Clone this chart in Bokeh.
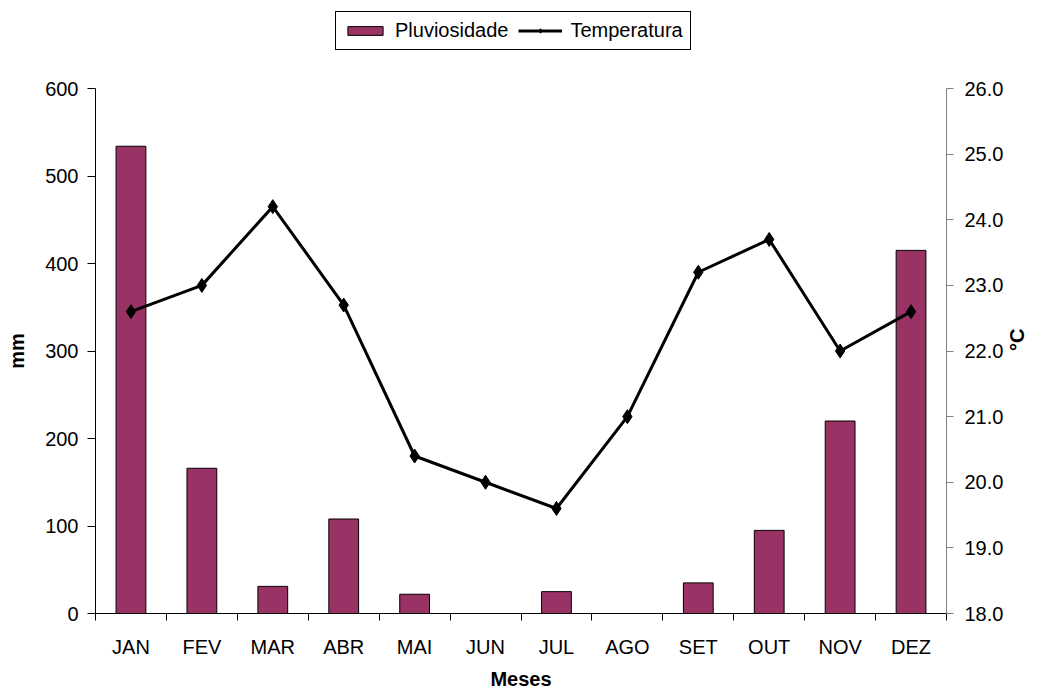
import math
import numpy as np
from bokeh.plotting import figure
from bokeh.layouts import column
from bokeh.models import (Range1d, LinearAxis, FixedTicker, CustomJSTickFormatter,
                          PrintfTickFormatter, Legend, LegendItem, ColumnDataSource)
from bokeh.embed import file_html
from bokeh.resources import INLINE

months = ["JAN", "FEV", "MAR", "ABR", "MAI", "JUN", "JUL", "AGO", "SET", "OUT", "NOV", "DEZ"]
rain_mm = [534, 166, 31, 108, 22, 0, 25, 0, 35, 95, 220, 415]
temp_c = [22.6, 23.0, 24.2, 22.7, 20.4, 20.0, 19.6, 21.0, 23.2, 23.7, 22.0, 22.6]
rain_ticks = [0, 100, 200, 300, 400, 500, 600]
temp_ticks = [18, 19, 20, 21, 22, 23, 24, 25, 26]
series_names = ["Pluviosidade", "Temperatura"]

FONT = "Liberation Sans"
BAR = "#993366"

centers = (np.arange(len(months)) + 0.5).tolist()
bounds = np.arange(len(months) + 1).tolist()

src = ColumnDataSource(dict(x=centers, rain=rain_mm, temp=temp_c, m=months))

# ---------------- legend strip ----------------
LEG_H = 70
lf = figure(width=1042, height=LEG_H, output_backend="svg", toolbar_location=None,
            x_axis_type=None, y_axis_type=None, x_range=Range1d(100, 101),
            y_range=Range1d(1000, 1001), min_border=0)
lf.outline_line_color = None
lf.grid.visible = False
lf.background_fill_color = "white"
lf.border_fill_color = "white"
lb = lf.vbar(x="x", top="rain", width=0.42, source=src, fill_color=BAR, line_color="black", line_width=1)
ll = lf.line(x="x", y="temp", source=src, line_color="black", line_width=3)
ls = lf.scatter(x="x", y="temp", source=src, marker="diamond", size=14,
                fill_color="black", line_color="black")
legend = Legend(items=[LegendItem(label=series_names[0], renderers=[lb]),
                       LegendItem(label=series_names[1], renderers=[ll, ls])],
                orientation="horizontal", location=(240, 20))
legend.border_line_color = "black"
legend.border_line_alpha = 1
legend.border_line_width = 1
legend.background_fill_color = "white"
legend.background_fill_alpha = 1
legend.label_text_font = FONT
legend.label_text_font_size = "20px"
legend.label_text_color = "black"
legend.glyph_width = 44
legend.glyph_height = 11
legend.label_standoff = 8
legend.spacing = 10
legend.padding = 7
legend.margin = 0
lf.add_layout(legend, "center")

# ---------------- main chart ----------------
p = figure(width=1042, height=692 - LEG_H, output_backend="svg", toolbar_location=None,
           x_range=Range1d(0, len(months)), y_range=Range1d(0, 600),
           min_border_left=95, min_border_right=96, min_border_top=88 - LEG_H, min_border_bottom=79)
p.extra_y_ranges = {"temp": Range1d(18, 26)}
p.outline_line_color = None
p.xgrid.visible = False
p.ygrid.visible = False
p.background_fill_color = "white"
p.border_fill_color = "white"

bars = p.vbar(x="x", top="rain", width=0.42, source=src, fill_color=BAR,
              line_color="black", line_width=1)
line = p.line(x="x", y="temp", source=src, y_range_name="temp", line_color="black", line_width=3)
pts = p.scatter(x="x", y="temp", source=src, y_range_name="temp", marker="diamond",
                size=14, fill_color="black", line_color="black")

# bottom axis
xa = p.xaxis[0]
xa.ticker = FixedTicker(ticks=centers, minor_ticks=bounds)
xa.formatter = CustomJSTickFormatter(args=dict(m=months), code="return m[Math.floor(tick)] || ''")
xa.major_tick_out = 0
xa.major_tick_in = 0
xa.minor_tick_out = 7
xa.minor_tick_in = 0
xa.minor_tick_line_color = "black"
xa.axis_line_color = "black"
xa.major_label_text_font = FONT
xa.major_label_text_font_size = "20px"
xa.major_label_text_color = "black"
xa.major_label_standoff = 15
xa.axis_label = "Meses"
xa.axis_label_text_font = FONT
xa.axis_label_text_font_size = "20px"
xa.axis_label_text_font_style = "bold"
xa.axis_label_text_color = "black"
xa.axis_label_standoff = 7

# left axis
ya = p.yaxis[0]
ya.ticker = FixedTicker(ticks=rain_ticks)
ya.major_tick_out = 8
ya.major_tick_in = 0
ya.minor_tick_out = 0
ya.minor_tick_in = 0
ya.axis_line_color = "black"
ya.major_tick_line_color = "black"
ya.major_label_text_font = FONT
ya.major_label_text_font_size = "20px"
ya.major_label_text_color = "black"
ya.major_label_standoff = 9
ya.axis_label = "mm"
ya.axis_label_text_font = FONT
ya.axis_label_text_font_size = "20px"
ya.axis_label_text_font_style = "bold"
ya.axis_label_text_color = "black"
ya.axis_label_standoff = 14

# right axis
ra = LinearAxis(y_range_name="temp", ticker=FixedTicker(ticks=temp_ticks),
                formatter=PrintfTickFormatter(format="%.1f"))
ra.major_tick_out = 7
ra.major_tick_in = 0
ra.minor_tick_out = 0
ra.minor_tick_in = 0
ra.axis_line_color = "#808080"
ra.major_tick_line_color = "#808080"
ra.major_label_text_font = FONT
ra.major_label_text_font_size = "20px"
ra.major_label_text_color = "black"
ra.major_label_standoff = 11
ra.axis_label = "°C"
ra.axis_label_text_font = FONT
ra.axis_label_text_font_size = "20px"
ra.axis_label_text_font_style = "bold"
ra.axis_label_text_color = "black"
ra.axis_label_standoff = 11
ra.axis_label_orientation = math.pi / 2
ra.axis_label_text_baseline = "top"
p.add_layout(ra, "right")

layout = column(lf, p, spacing=0)
open("out.html", "w").write(file_html(layout, INLINE))
